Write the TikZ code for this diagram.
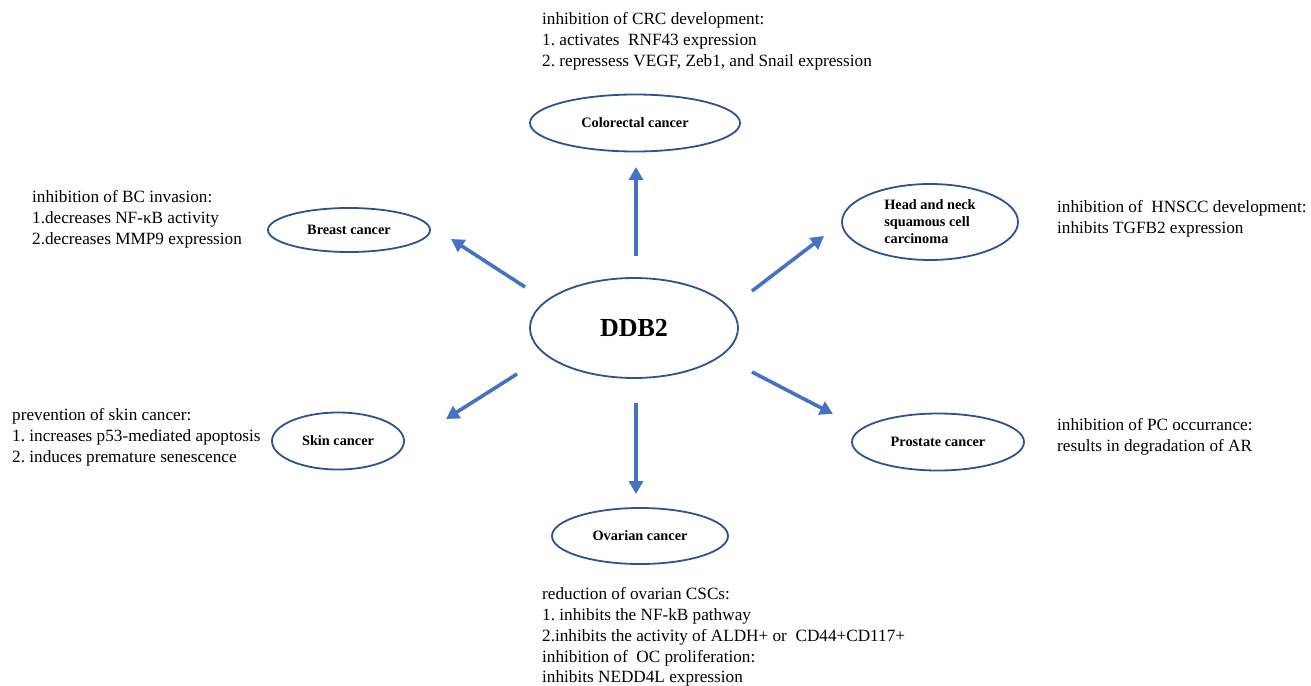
\documentclass[tikz,border=0pt]{standalone}
\usepackage{fontspec}
\setmainfont{Liberation Serif}
\frenchspacing
\usetikzlibrary{shapes.geometric,arrows.meta}
\definecolor{ellblue}{HTML}{2F528F}
\definecolor{arrblue}{HTML}{4472C4}
\tikzset{
  cancer/.style={ellipse, draw=ellblue, line width=1.8pt, inner sep=0pt,
    font=\bfseries\fontsize{14.3}{17}\selectfont},
  note/.style={anchor=west, align=left, inner sep=0pt,
    font=\fontsize{17.2}{20.8}\selectfont},
  arr/.style={draw=arrblue, line width=3.6pt,
    -{Triangle[length=13pt,width=14pt]}}
}
\begin{document}
\begin{tikzpicture}[x=1pt,y=-1pt]
      \useasboundingbox (0,0) rectangle (1311,685);
      % ellipses
      \node[cancer, minimum width=208, minimum height=100,
        font=\bfseries\fontsize{26}{30}\selectfont] (ddb) at (634,328) {DDB2};
      \node[cancer, minimum width=210, minimum height=57] (crc) at (635,123) {Colorectal cancer};
      \node[cancer, minimum width=162, minimum height=44] (bc) at (349,230) {Breast cancer};
      \node[cancer, minimum width=176, minimum height=76, align=left] (hn) at (930,222)
        {Head and neck\\squamous cell\\carcinoma};
      \node[cancer, minimum width=132, minimum height=57] (skin) at (338,441) {Skin cancer};
      \node[cancer, minimum width=172, minimum height=57] (pc) at (938,442) {Prostate cancer};
      \node[cancer, minimum width=176, minimum height=56] (oc) at (640,536) {Ovarian cancer};
      % notes
      \node[note] (crcnote) at (542,41) {inhibition of CRC development:\\
        1. activates\ \ RNF43 expression\\
        2. repressess VEGF, Zeb1, and Snail expression};
      \node[note] (bcnote) at (32,219) {inhibition of BC invasion:\\
        1.decreases NF-κB activity\\
        2.decreases MMP9 expression};
      \node[note] (hnnote) at (1057,219) {inhibition of\ \ HNSCC development:\\
        inhibits TGFB2 expression};
      \node[note] (skinnote) at (12,437) {prevention of skin cancer:\\
        1. increases p53-mediated apoptosis\\
        2. induces premature senescence};
      \node[note] (pcnote) at (1057,437) {inhibition of PC occurrance:\\
        results in degradation of AR};
      \node[note] (ocnote) at (542,637) {reduction of ovarian CSCs:\\
        1. inhibits the NF-kB pathway\\
        2.inhibits the activity of ALDH+ or\ \ CD44+CD117+\\
        inhibition of\ \ OC proliferation:\\
        inhibits NEDD4L expression};
      % arrow ends
      \coordinate (t1) at (636,256);  \coordinate (h1) at (636,167);
      \coordinate (t2) at (525,287);  \coordinate (h2) at (451,239);
      \coordinate (t3) at (752,291);  \coordinate (h3) at (824,236);
      \coordinate (t4) at (517,374);  \coordinate (h4) at (446,419);
      \coordinate (t5) at (752,372);  \coordinate (h5) at (833,414);
      \coordinate (t6) at (636,403);  \coordinate (h6) at (636,494);
      \begin{scope}[arr]
        \draw (t1) -- (h1);
        \draw (t2) -- (h2);
        \draw (t3) -- (h3);
        \draw (t4) -- (h4);
        \draw (t5) -- (h5);
        \draw (t6) -- (h6);
      \end{scope}
    \end{tikzpicture}
\end{document}
